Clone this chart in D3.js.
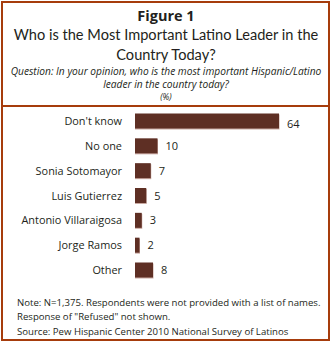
<!DOCTYPE html>
<html>
<head>
<meta charset="utf-8">
<script src="https://cdn.jsdelivr.net/npm/d3@7/dist/d3.min.js"></script>
<style>
  html, body { margin: 0; padding: 0; background: #fff; }
  svg { display: block; }
  text { font-family: "Open Sans", Lato, sans-serif; fill: #231f20; }
</style>
</head>
<body>
<script>
// Survey responses: most important Latino leader (%)
const categories = ["Don't know", "No one", "Sonia Sotomayor", "Luis Gutierrez",
                    "Antonio Villaraigosa", "Jorge Ramos", "Other"];
const values = [64, 10, 7, 5, 3, 2, 8];

const figureLabel = "Figure 1";
const titleLines = ["Who is the Most Important Latino Leader in the", "Country Today?"];
const questionLines = ["Question: In your opinion, who is the most important Hispanic/Latino",
                       "leader in the country today?"];
const unitLabel = "(%)";
const noteLines = ["Note: N=1,375. Respondents were not provided with a list of names.",
                   "Response of \"Refused\" not shown.",
                   "Source: Pew Hispanic Center 2010 National Survey of Latinos"];

const W = 332, H = 342;
const frameColor = "#a63c0c";
const barColor = "#5e2f24";
const barEdge = "#c9a9a1";

const svg = d3.select("body").append("svg")
  .attr("width", W).attr("height", H);

// outer frame and header divider
svg.append("rect")
  .attr("x", 2).attr("y", 2).attr("width", 327).attr("height", 338)
  .attr("fill", "none").attr("stroke", frameColor).attr("stroke-width", 2);
svg.append("line")
  .attr("x1", 2).attr("x2", 329).attr("y1", 106).attr("y2", 106)
  .attr("stroke", frameColor).attr("stroke-width", 2);

// header text
const cx = W / 2;
svg.append("text").attr("x", cx).attr("y", 20.5)
  .attr("text-anchor", "middle").attr("font-size", 14.5).attr("font-weight", 700)
  .text(figureLabel);
svg.selectAll("text.title").data(titleLines).join("text")
  .attr("class", "title")
  .attr("x", cx).attr("y", (d, i) => 40 + i * 20)
  .attr("text-anchor", "middle").attr("font-size", 14.6)
  .style("font-family", "Lato, sans-serif")
  .text(d => d);
svg.selectAll("text.question").data(questionLines).join("text")
  .attr("class", "question")
  .attr("x", cx).attr("y", (d, i) => 75 + i * 12.5)
  .attr("text-anchor", "middle").attr("font-size", 10.2).attr("font-style", "italic")
  .text(d => d);
svg.append("text").attr("x", cx).attr("y", 100)
  .attr("text-anchor", "middle").attr("font-size", 8.5).attr("font-style", "italic")
  .text(unitLabel);

// scales
const x = d3.scaleLinear().domain([0, 64]).range([135, 279]);
const y = d3.scalePoint().domain(categories).range([121, 270]);
const barH = 15;

const rows = svg.selectAll("g.row")
  .data(categories.map((c, i) => ({ c, v: values[i] })))
  .join("g").attr("class", "row");

// thin light edge under each bar
rows.append("rect")
  .attr("x", x(0))
  .attr("y", d => y(d.c) - barH / 2 + 1)
  .attr("width", d => x(d.v) - x(0) + 0.5)
  .attr("height", barH)
  .attr("fill", barEdge);
rows.append("rect")
  .attr("x", x(0))
  .attr("y", d => y(d.c) - barH / 2)
  .attr("width", d => x(d.v) - x(0))
  .attr("height", barH)
  .attr("fill", barColor);

rows.append("text")
  .attr("x", x(0) - 13)
  .attr("y", d => y(d.c) + 4)
  .attr("text-anchor", "end").attr("font-size", 10.9)
  .text(d => d.c);
rows.append("text")
  .attr("x", d => x(d.v) + 8)
  .attr("y", (d, i) => y(d.c) + (i === 0 ? 7 : 4))
  .attr("font-size", 11)
  .text(d => d.v);

// footnotes
svg.selectAll("text.note").data(noteLines).join("text")
  .attr("class", "note")
  .attr("x", 17).attr("y", (d, i) => 305.5 + i * 14.5)
  .attr("font-size", 9.6)
  .text(d => d);
</script>
</body>
</html>
